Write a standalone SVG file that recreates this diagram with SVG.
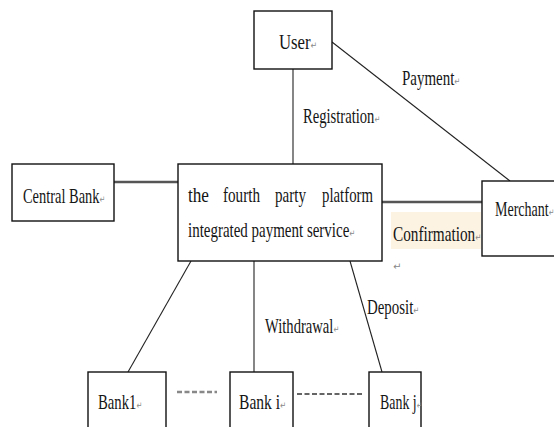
<svg xmlns="http://www.w3.org/2000/svg" width="554" height="427" viewBox="0 0 554 427">
<style>
.box{fill:#fff;stroke:#111;stroke-width:1.4}
.ln{stroke:#222;stroke-width:1.1;fill:none}
.thick{stroke:#555;stroke-width:2.6;fill:none}
.t{font-family:"Liberation Serif","Times New Roman",serif;font-size:22px;fill:#151515}
.pm{font-family:"DejaVu Sans",sans-serif;font-size:10px;fill:#888}
</style>
<rect width="554" height="427" fill="#fff"/>
<g id="connectors">
<line class="ln" x1="293" y1="69" x2="293" y2="164"/>
<line class="ln" x1="332" y1="42" x2="510" y2="181" stroke="#333" stroke-width="1.4"/>
<line class="thick" x1="114" y1="182" x2="178" y2="182"/>
<line class="thick" x1="382" y1="202" x2="482" y2="202"/>
<line class="ln" x1="191" y1="261" x2="128" y2="372"/>
<line class="ln" x1="254" y1="261" x2="254" y2="372"/>
<line class="ln" x1="350" y1="261" x2="382" y2="372"/>
<line x1="177" y1="392" x2="217" y2="392" stroke="#888" stroke-width="2.4" stroke-dasharray="5,2.5"/>
<line x1="297" y1="394" x2="362" y2="394" stroke="#333" stroke-width="1.6" stroke-dasharray="5,2.5"/>
</g>
<g id="labels">
<text class="t" x="303" y="123" textLength="77" lengthAdjust="spacingAndGlyphs">Registration<tspan class="pm">↵</tspan></text>
<text class="t" x="402" y="85" textLength="58" lengthAdjust="spacingAndGlyphs">Payment<tspan class="pm">↵</tspan></text>
<rect x="391" y="212" width="90" height="37" fill="#fdf3e3"/>
<text class="t" x="393" y="241" textLength="88" lengthAdjust="spacingAndGlyphs">Confirmation<tspan class="pm">↵</tspan></text>
<text class="pm" x="393" y="270" font-size="7">↵</text>
<text class="t" x="367" y="314" textLength="52" lengthAdjust="spacingAndGlyphs">Deposit<tspan class="pm">↵</tspan></text>
<text class="t" x="265" y="333" textLength="74" lengthAdjust="spacingAndGlyphs">Withdrawal<tspan class="pm">↵</tspan></text>
</g>
<g id="user">
<rect class="box" x="254" y="11" width="78" height="58"/>
<text class="t" x="279" y="49" textLength="38" lengthAdjust="spacingAndGlyphs">User<tspan class="pm">↵</tspan></text>
</g>
<g id="central-bank">
<rect class="box" x="12" y="164" width="102" height="57"/>
<text class="t" x="23" y="203" textLength="82" lengthAdjust="spacingAndGlyphs">Central Bank<tspan class="pm">↵</tspan></text>
</g>
<g id="platform">
<rect class="box" x="178" y="164" width="204" height="97"/>
<text class="t" x="188" y="202" textLength="21" lengthAdjust="spacingAndGlyphs">the</text>
<text class="t" x="223" y="202" textLength="37" lengthAdjust="spacingAndGlyphs">fourth</text>
<text class="t" x="275" y="202" textLength="31" lengthAdjust="spacingAndGlyphs">party</text>
<text class="t" x="322" y="202" textLength="51" lengthAdjust="spacingAndGlyphs">platform</text>
<text class="t" x="188" y="237" textLength="167" lengthAdjust="spacingAndGlyphs">integrated payment service<tspan class="pm">↵</tspan></text>
</g>
<g id="merchant">
<rect class="box" x="482" y="181" width="80" height="75"/>
<text class="t" x="495" y="216" textLength="59" lengthAdjust="spacingAndGlyphs">Merchant<tspan class="pm">↵</tspan></text>
</g>
<g id="bank1">
<rect class="box" x="88" y="372" width="78" height="60"/>
<text class="t" x="98" y="409" textLength="44" lengthAdjust="spacingAndGlyphs">Bank1<tspan class="pm">↵</tspan></text>
</g>
<g id="bank-i">
<rect class="box" x="230" y="372" width="63" height="60"/>
<text class="t" x="239" y="409" textLength="47" lengthAdjust="spacingAndGlyphs">Bank i<tspan class="pm">↵</tspan></text>
</g>
<g id="bank-j">
<rect class="box" x="369" y="372" width="52" height="60"/>
<text class="t" x="380" y="409" textLength="42" lengthAdjust="spacingAndGlyphs">Bank j<tspan class="pm">↵</tspan></text>
</g>
</svg>
